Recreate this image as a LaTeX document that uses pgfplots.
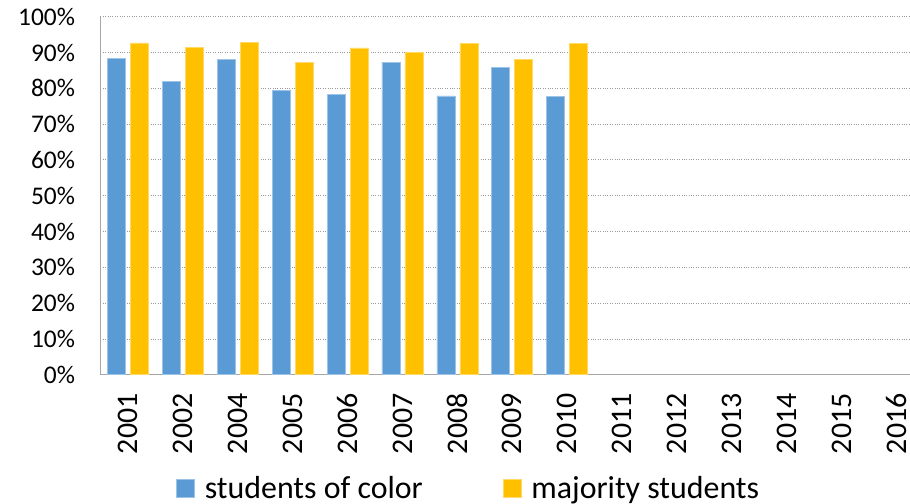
\documentclass[border=0pt]{standalone}
\usepackage{fontspec}
\setmainfont{Carlito}
\usepackage{pgfplots}
\pgfplotsset{compat=1.18}
\definecolor{soc}{HTML}{5B9BD5}
\definecolor{maj}{HTML}{FFC000}
\begin{document}
\begin{tikzpicture}
\begin{axis}[
  x=54.9bp, y=3.58bp,
  xmin=-0.5, xmax=14.24,
  ymin=0, ymax=100,
  ybar=5bp, bar width=18bp,
  axis x line*=bottom, axis y line*=left,
  axis line style={draw=gray!70, line width=0.8bp, -},
  ytick={0,10,...,100},
  yticklabels={0\%,10\%,20\%,30\%,40\%,50\%,60\%,70\%,80\%,90\%,100\%},
  xtick={0,...,14},
  xticklabels={2001,2002,2004,2005,2006,2007,2008,2009,2010,2011,2012,2013,2014,2015,2016},
  major tick length=0pt,
  ymajorgrids, grid style={gray!80, dotted, line width=0.8bp},
  yticklabel style={font=\fontsize{25.5}{30}\selectfont, xshift=-22bp},
  xticklabel style={font=\fontsize{30}{36}\selectfont, rotate=90, anchor=east, inner sep=0pt, xshift=-18.6bp},
  legend columns=2,
  legend style={at={(0.455,-0.316)}, anchor=center, draw=none, fill=none,
    font=\fontsize{32}{38}\selectfont,
    /tikz/every even column/.append style={column sep=78bp}},
  legend image code/.code={\fill[#1] (0bp,-9bp) rectangle (18bp,9bp); \path (26bp,0bp);},
]
\addplot[fill=soc, draw=soc!60!white, line width=0.6bp] coordinates {
  (0,88.4)(1,82.0)(2,88.1)(3,79.5)(4,78.4)(5,87.3)(6,77.9)(7,85.9)(8,77.8)
};
\addlegendentry{students of color}
\addplot[fill=maj, draw=maj!60!white, line width=0.6bp] coordinates {
  (0,92.7)(1,91.4)(2,92.9)(3,87.3)(4,91.3)(5,90.1)(6,92.6)(7,88.0)(8,92.6)
};
\addlegendentry{majority students}
\end{axis}
\pgfresetboundingbox
\useasboundingbox (-100.5bp,-129.3bp) rectangle (809.5bp,374.7bp);
\end{tikzpicture}
\end{document}
